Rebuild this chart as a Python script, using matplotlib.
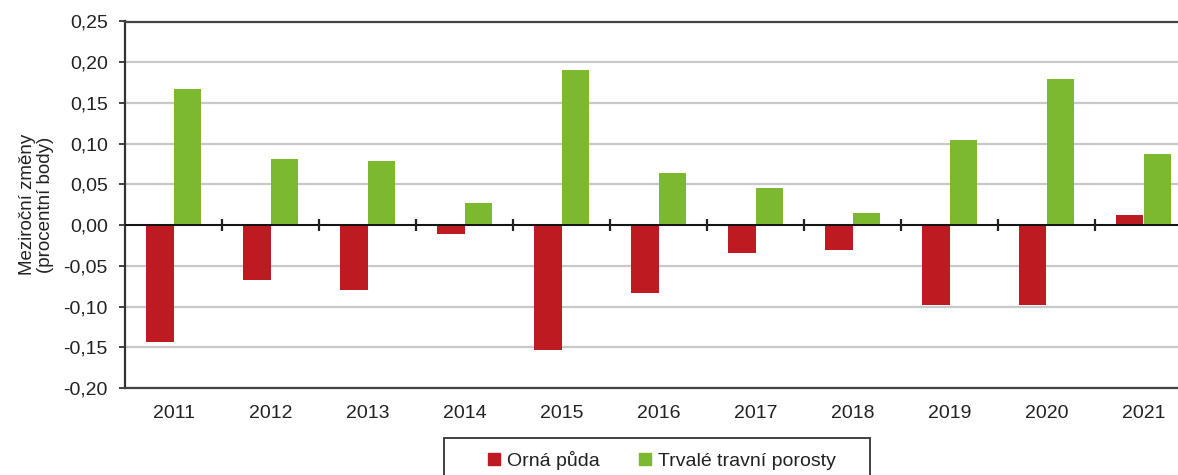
import numpy as np
import matplotlib
matplotlib.use("Agg")
import matplotlib.pyplot as plt
from matplotlib.lines import Line2D
from matplotlib.patches import Rectangle

plt.rcParams['font.family'] = ['Liberation Sans', 'DejaVu Sans']

# DATA
years = ['2011', '2012', '2013', '2014', '2015', '2016', '2017', '2018', '2019', '2020', '2021']
orna_puda = [-0.144, -0.068, -0.080, -0.011, -0.153, -0.083, -0.034, -0.030, -0.098, -0.098, 0.012]
trvale_porosty = [0.167, 0.081, 0.079, 0.027, 0.191, 0.064, 0.046, 0.015, 0.105, 0.179, 0.087]
yticks = [-0.20, -0.15, -0.10, -0.05, 0.00, 0.05, 0.10, 0.15, 0.20, 0.25]
series_names = ['Orná půda', 'Trvalé travní porosty']

red = '#BE1A22'
green = '#7DB92E'

W, H = 1178, 475
fig = plt.figure(figsize=(W/100, H/100), dpi=100)
# axes run past the right edge of the picture (it is cut off there)
ax = fig.add_axes([125/W, 87/H, 1067/W, 366.5/H])

x = np.arange(len(years))
w = 0.28
ax.bar(x - w/2, orna_puda, w, color=red, zorder=3)
ax.bar(x + w/2, trvale_porosty, w, color=green, zorder=3)

ax.set_xlim(-0.5, len(years) - 0.5)
ax.set_ylim(-0.20, 0.25)
ax.set_yticks(yticks)
ax.set_yticklabels([('%.2f' % v).replace('.', ',') for v in yticks], fontsize=14, color='#222222')
ax.set_xticks(x)
ax.set_xticklabels(years, fontsize=14, color='#222222')
ax.tick_params(axis='x', length=0, pad=12)
ax.tick_params(axis='y', length=4, width=1.3, color='#333333', pad=8.5)

ax.yaxis.grid(True, color='#C8C8C8', linewidth=1.6, zorder=0)
ax.set_axisbelow(True)

for s in ['top', 'bottom']:
    ax.spines[s].set_color('#444444')
    ax.spines[s].set_linewidth(1.6)
ax.spines['left'].set_color('#333333')
ax.spines['left'].set_linewidth(1.6)
ax.spines['right'].set_visible(False)

# zero line with category separators
ax.axhline(0, color='#111111', linewidth=1.4, zorder=4)
ax.vlines(x[:-1] + 0.5, -0.0075, 0.0075, color='#222222', linewidth=1.6, zorder=4)

ax.set_ylabel('Meziroční změny\n(procentní body)', fontsize=13.5, labelpad=7,
              linespacing=1.05, color='#222222')

# legend, its box is cut by the bottom edge
handles = [Line2D([], [], marker='s', linestyle='none', markersize=9, color=red),
           Line2D([], [], marker='s', linestyle='none', markersize=9, color=green)]
leg = fig.legend(handles, series_names, loc='center', ncol=2,
                 bbox_to_anchor=(660/W, 1 - 460/H), fontsize=14,
                 frameon=False, handletextpad=0.2, columnspacing=1.8,
                 handlelength=1.0, borderaxespad=0)
for t in leg.get_texts():
    t.set_color('#222222')
fig.patches.append(Rectangle((444/W, -20/H), 426/W, (475 - 438 + 20)/H,
                             transform=fig.transFigure, fill=False,
                             edgecolor='#333333', linewidth=1.3))

fig.savefig('out.png', dpi=100)
